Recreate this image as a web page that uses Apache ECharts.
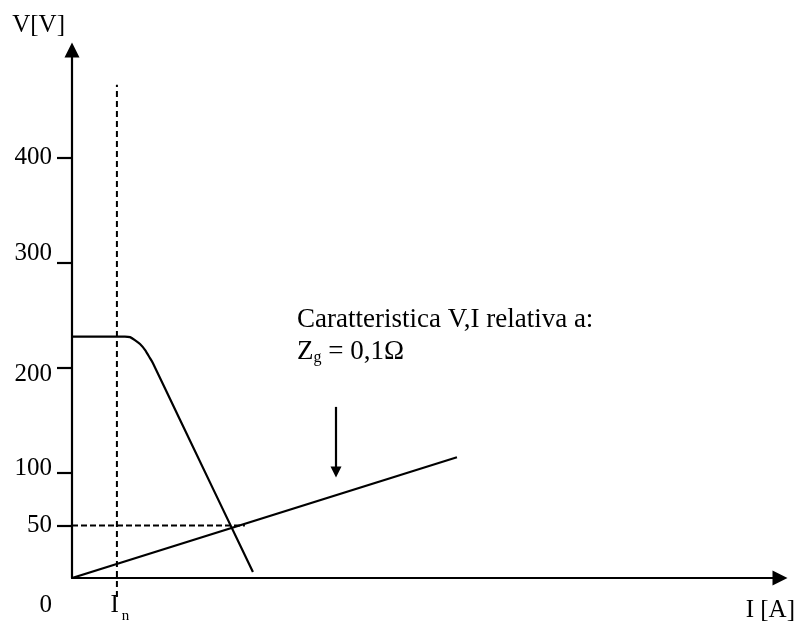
<!DOCTYPE html>
<html>
<head>
<meta charset="utf-8">
<script src="https://cdn.jsdelivr.net/npm/echarts@6/dist/echarts.min.js"></script>
<style>
  html, body { margin: 0; padding: 0; background: #fff; }
  #chart { width: 798px; height: 621px; }
</style>
</head>
<body>
<div id="chart"></div>
<script>
// Generator V-I characteristic (current in A, voltage in V)
const genCurrent = [0, 165, 181, 196, 212, 228, 243, 252, 337, 564];
const genVoltage = [230, 230, 229.5, 226.7, 222.9, 217.1, 209.5, 204.8, 150.5, 5.7];

// Load line for Zg = 0,1 ohm
const loadCurrent = [0, 1200];
const loadVoltage = [0, 115];

// Rated current and reference voltage (dashed guides)
const ratedCurrent = 140;
const ratedGuideV = [-18, 470];
const refVoltage = 50;
const refGuideI = [0, 539];

// Pointer arrow towards the load line
const pointerCurrent = 823;
const pointerVoltage = [163, 101];

// Axis ticks and labels
const yTickValues = [50, 100, 200, 300, 400];
const yLabelValues = [0, 50, 100, 200, 300, 400];
const xLabelValues = [ratedCurrent];

const axisMaxI = 2207;
const axisMaxV = 503;

const FONT = '"Liberation Serif", "Times New Roman", serif';

// Vertical nudges (px) of the hand-placed y labels
const yLabelNudge = { 0: 27, 50: 0, 100: -5, 200: 6, 300: -10, 400: -1 };

function nudgeRich() {
  const rich = {};
  Object.keys(yLabelNudge).forEach(k => {
    const d = yLabelNudge[k];
    rich['v' + k] = {
      fontFamily: FONT, fontSize: 25, color: '#000',
      padding: d >= 0 ? [2 * d, 0, 0, 0] : [0, 0, -2 * d, 0]
    };
  });
  return rich;
}

const zip = (a, b) => a.map((v, i) => [v, b[i]]);

const chart = echarts.init(document.getElementById('chart'), null, { renderer: 'canvas' });

chart.setOption({
  animation: false,
  backgroundColor: '#fff',
  grid: { left: 72, right: 18, top: 50, bottom: 43, containLabel: false, outerBoundsMode: 'none' },
  xAxis: {
    type: 'value',
    min: 0,
    max: axisMaxI,
    name: 'I [A]',
    nameLocation: 'end',
    nameGap: 15,
    nameTextStyle: {
      fontFamily: FONT, fontSize: 25, color: '#000',
      align: 'right', verticalAlign: 'top', padding: [20, 0, 0, 0]
    },
    axisLine: {
      show: true,
      symbol: ['none', 'triangle'],
      symbolSize: [15, 15],
      lineStyle: { color: '#000', width: 2.2 }
    },
    axisTick: { show: false },
    splitLine: { show: false },
    axisLabel: {
      show: true,
      customValues: xLabelValues,
      margin: 9,
      formatter: () => '{i|I}{n|n}',
      rich: {
        i: { fontFamily: FONT, fontSize: 25, color: '#000', padding: [0, 0, 0, 6] },
        n: { fontFamily: FONT, fontSize: 15, color: '#000', padding: [22, 0, 0, 3] }
      }
    }
  },
  yAxis: {
    type: 'value',
    min: 0,
    max: axisMaxV,
    name: 'V[V]',
    nameLocation: 'end',
    nameGap: 12,
    nameTextStyle: {
      fontFamily: FONT, fontSize: 25, color: '#000',
      align: 'right', verticalAlign: 'bottom', padding: [0, 7, 0, 0]
    },
    axisLine: {
      show: true,
      symbol: ['none', 'triangle'],
      symbolSize: [15, 15],
      lineStyle: { color: '#000', width: 2.2 }
    },
    axisTick: {
      show: true,
      customValues: yTickValues,
      inside: false,
      length: 15,
      lineStyle: { color: '#000', width: 2.2 }
    },
    splitLine: { show: false },
    axisLabel: {
      show: true,
      customValues: yLabelValues,
      margin: 20,
      formatter: v => '{v' + v + '|' + v + '}',
      rich: nudgeRich()
    }
  },
  series: [
    {
      name: 'Caratteristica generatore',
      type: 'line',
      data: zip(genCurrent, genVoltage),
      symbol: 'none',
      smooth: 0.2,
      lineStyle: { color: '#000', width: 2.2 },
      z: 3
    },
    {
      name: 'Zg = 0,1Ω',
      type: 'line',
      data: zip(loadCurrent, loadVoltage),
      symbol: 'none',
      lineStyle: { color: '#000', width: 2.2 },
      z: 3,
      markLine: {
        silent: true,
        symbol: ['none', 'triangle'],
        symbolSize: [11, 11],
        label: { show: false },
        lineStyle: { color: '#000', width: 2.2, type: 'solid' },
        data: [[
          { coord: [pointerCurrent, pointerVoltage[0]] },
          { coord: [pointerCurrent, pointerVoltage[1]] }
        ]]
      }
    },
    {
      name: 'In',
      type: 'line',
      clip: false,
      data: [[ratedCurrent, ratedGuideV[0]], [ratedCurrent, ratedGuideV[1]]],
      symbol: 'none',
      lineStyle: { color: '#000', width: 2, type: [6, 4] },
      z: 2
    },
    {
      name: '50 V',
      type: 'line',
      clip: false,
      data: [[refGuideI[0], refVoltage], [refGuideI[1], refVoltage]],
      symbol: 'none',
      lineStyle: { color: '#000', width: 2, type: [6, 3] },
      z: 2
    }
  ],
  graphic: [
    {
      type: 'text',
      left: 297,
      top: 306,
      style: {
        text: 'Caratteristica V,I relativa a:',
        font: '27px ' + FONT,
        fill: '#000'
      }
    },
    {
      type: 'text',
      left: 297,
      top: 338,
      style: {
        text: '{a|Z}{b|g}{a| = 0,1Ω}',
        fill: '#000',
        rich: {
          a: { fontFamily: FONT, fontSize: 27, fill: '#000' },
          b: { fontFamily: FONT, fontSize: 16, fill: '#000', padding: [12, 0, 0, 0] }
        }
      }
    }
  ]
});
</script>
</body>
</html>
